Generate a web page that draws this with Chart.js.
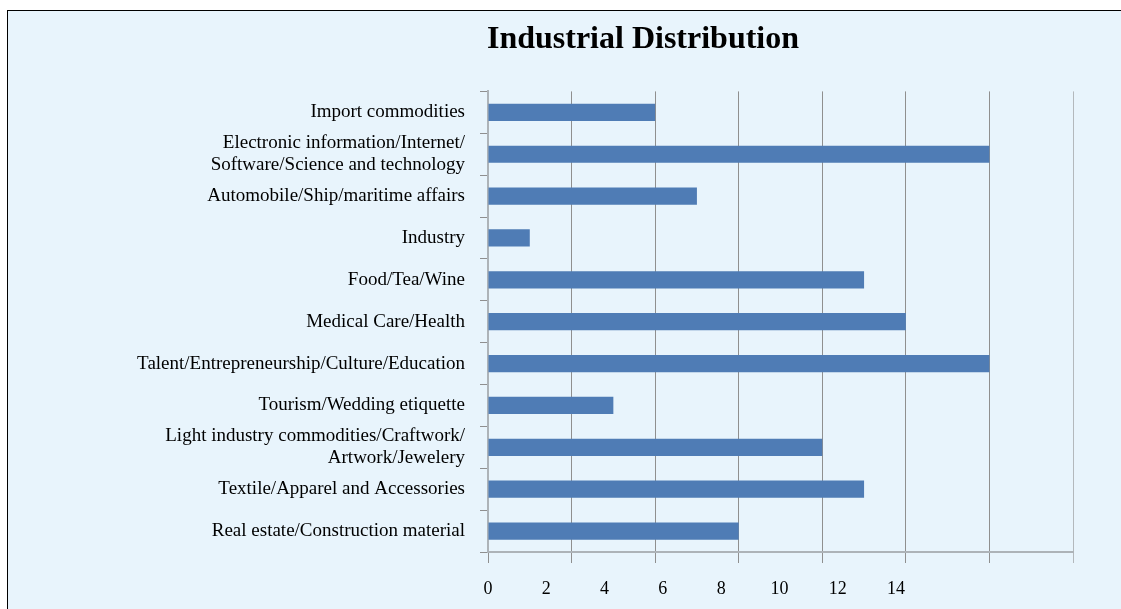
<!DOCTYPE html>
<html>
<head>
<meta charset="utf-8">
<title>Industrial Distribution</title>
<script src="https://cdn.jsdelivr.net/npm/chart.js@4.4.1/dist/chart.umd.min.js"></script>
<style>
    html, body { margin: 0; padding: 0; background: #ffffff; overflow: hidden; }
    #frame {
        position: absolute;
        left: 7px;
        top: 10px;
        width: 1270px;
        height: 620px;
        border: 1px solid #000000;
        background: #e8f4fc;
    }
    #frame canvas { display: block; }
</style>
</head>
<body>
<div id="frame">
    <canvas id="industryChart" width="1270" height="620"></canvas>
</div>
<script>
// Categories, top to bottom
const industries = [
    'Import commodities',
    ['Electronic information/Internet/', 'Software/Science and technology'],
    'Automobile/Ship/maritime affairs',
    'Industry',
    'Food/Tea/Wine',
    'Medical Care/Health',
    'Talent/Entrepreneurship/Culture/Education',
    'Tourism/Wedding etiquette',
    ['Light industry commodities/Craftwork/', 'Artwork/Jewelery'],
    'Textile/Apparel and Accessories',
    'Real estate/Construction material'
];
const counts = [4, 12, 5, 1, 9, 10, 12, 3, 8, 9, 6];
const tickValues = [0, 2, 4, 6, 8, 10, 12, 14];

const serif = '"Liberation Serif", "Times New Roman", serif';
const gridGray = '#8f8f8f';
const axisGray = '#adb3b8';

function initIndustryChart() {
    const ctx = document.getElementById('industryChart');
    if (!ctx || typeof Chart === 'undefined') {
        console.error('Chart.js or canvas not available');
        return;
    }

    window.industryChart = new Chart(ctx, {
        type: 'bar',
        data: {
            labels: industries,
            datasets: [{
                data: counts,
                backgroundColor: '#4f7cb5',
                borderWidth: 0,
                categoryPercentage: 1,
                barPercentage: 0.41,
                xAxisID: 'x'
            }]
        },
        options: {
            indexAxis: 'y',
            responsive: false,
            animation: false,
            layout: { padding: { top: 0, right: 0, bottom: 28, left: 0 } },
            plugins: {
                legend: { display: false },
                tooltip: { enabled: false },
                title: {
                    display: true,
                    text: 'Industrial Distribution',
                    color: '#000000',
                    font: { family: serif, size: 32, weight: 'bold' },
                    padding: { top: 10, bottom: 32 }
                }
            },
            scales: {
                y: {
                    position: 'left',
                    afterFit: s => { s.width = 480; },
                    grid: {
                        offset: true,
                        drawOnChartArea: false,
                        drawTicks: true,
                        tickLength: 8,
                        color: gridGray
                    },
                    border: { color: axisGray, width: 2 },
                    ticks: {
                        color: '#000000',
                        padding: 15,
                        autoSkip: false,
                        font: { family: serif, size: 19, lineHeight: 1.15 }
                    }
                },
                // empty space to the right of the plot, keeps the title centred on the whole frame
                rightGap: {
                    type: 'linear',
                    axis: 'y',
                    position: 'right',
                    afterFit: s => { s.width = 205; },
                    grid: { display: false, drawTicks: false },
                    border: { display: false },
                    ticks: { display: false }
                },
                x: {
                    position: 'bottom',
                    min: 0,
                    max: 14,
                    afterFit: s => { s.height = 11; },
                    afterBuildTicks: s => { s.ticks = tickValues.map(v => ({ value: v })); },
                    grid: {
                        color: ctx => ctx.tick && ctx.tick.value === 14 ? '#b3b8bc' : gridGray,
                        lineWidth: 1,
                        drawTicks: true,
                        tickLength: 11
                    },
                    border: { color: axisGray, width: 2 },
                    ticks: { display: false }
                },
                // label strip under the axis: same 0..14 steps, drawn on a compressed range
                xLabels: {
                    position: 'bottom',
                    min: 0,
                    max: 14 * 585 / 408,
                    afterFit: s => { s.height = 40; },
                    afterBuildTicks: s => { s.ticks = tickValues.map(v => ({ value: v })); },
                    grid: { display: false, drawTicks: false },
                    border: { display: false },
                    ticks: {
                        color: '#000000',
                        padding: 15,
                        maxRotation: 0,
                        autoSkip: false,
                        font: { family: serif, size: 18 }
                    }
                }
            }
        }
    });
}

initIndustryChart();
</script>
</body>
</html>
